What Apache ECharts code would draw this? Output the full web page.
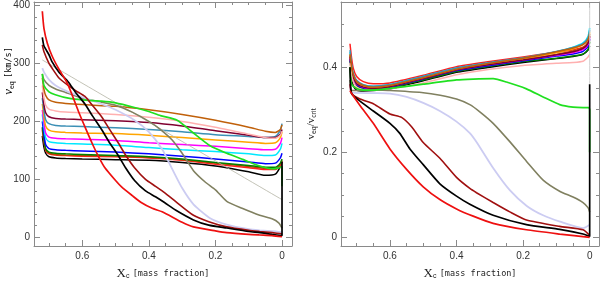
<!DOCTYPE html>
<html><head><meta charset="utf-8">
<script src="https://cdn.jsdelivr.net/npm/echarts@6/dist/echarts.min.js"></script>
<style>html,body{margin:0;padding:0;background:#fff}#c{width:600px;height:285px}</style>
</head><body><div id="c"></div>
<script>
// ---- tick values ----
const xMajor = [0, 0.2, 0.4, 0.6];
const xMinor = [0.05, 0.1, 0.15, 0.25, 0.3, 0.35, 0.45, 0.5, 0.55, 0.65, 0.7];
const yLMajor = [0, 100, 200, 300, 400];
const yLMinor = [20, 40, 60, 80, 120, 140, 160, 180, 220, 240, 260, 280, 320, 340, 360, 380];
const yRMajor = [0, 0.2, 0.4];
const yRMinor = [0.05, 0.1, 0.15, 0.25, 0.3, 0.35, 0.45, 0.5];

// ---- flat family (shared X grid) ----
const xFlat = [0.72, 0.715, 0.71, 0.70, 0.68, 0.65, 0.6, 0.5, 0.4, 0.3, 0.2, 0.1, 0.05, 0.02, 0.005, 0];
// left panel: v_eq [km/s]
const brownL   = [275, 255, 245, 237, 233, 231, 229, 226, 220, 212, 202, 190, 183, 181, 186, 194];
const pinkL    = [262, 240, 228, 221, 218, 216, 215, 212, 207, 200, 190, 178, 172, 171, 176, 183];
const maroonL  = [250, 228, 215, 208, 205, 204, 203, 201, 198, 192, 184, 176, 172, 172, 178, 186];
const steelL   = [240, 218, 203, 196, 193, 192, 191, 189, 186, 182, 177, 174, 172, 174, 185, 196];
const orangeL  = [230, 208, 192, 185, 182, 181, 180, 179, 176, 172, 168, 164, 162, 163, 172, 182];
const magentaL = [220, 198, 180, 173, 171, 170, 169, 167, 163, 160, 157, 153, 151, 152, 162, 172];
const cyanL    = [212, 190, 172, 165, 163, 162, 161, 159, 155, 151, 148, 144, 141, 142, 152, 162];
const blueL    = [200, 178, 160, 153, 151, 150, 149, 147, 144, 140, 135, 130, 127, 128, 137, 145];
const dgreenL  = [190, 170, 153, 147, 145, 144, 143, 141, 139, 135, 129, 124, 121, 121, 128, 135];
const siennaL  = [188, 168, 151, 145, 143, 142, 141, 140, 138, 134, 128, 122, 119, 119, 126, 133];
const redFL    = [185, 165, 150, 144, 142, 141, 140, 139, 137, 133, 126, 120, 117, 117, 124, 130];
const blackFL  = [175, 155, 145, 139, 137, 136, 135, 134, 133, 129, 123, 113, 107, 109, 122, 132];
// right panel: v_eq / v_crit
const brownR   = [0.43, 0.40, 0.382, 0.366, 0.357, 0.353, 0.357, 0.375, 0.395, 0.409, 0.421, 0.436, 0.445, 0.453, 0.464, 0.478];
const pinkR    = [0.41, 0.38, 0.366, 0.353, 0.347, 0.346, 0.349, 0.363, 0.382, 0.395, 0.404, 0.409, 0.411, 0.414, 0.424, 0.43];
const maroonR  = [0.425, 0.395, 0.376, 0.361, 0.353, 0.35, 0.354, 0.373, 0.393, 0.406, 0.417, 0.429, 0.436, 0.444, 0.456, 0.472];
const steelR   = [0.44, 0.405, 0.386, 0.369, 0.359, 0.355, 0.359, 0.378, 0.398, 0.411, 0.422, 0.437, 0.446, 0.455, 0.468, 0.487];
const orangeR  = [0.43, 0.398, 0.379, 0.365, 0.356, 0.352, 0.356, 0.375, 0.395, 0.408, 0.419, 0.434, 0.443, 0.453, 0.467, 0.482];
const magentaR = [0.425, 0.395, 0.376, 0.361, 0.353, 0.351, 0.355, 0.374, 0.394, 0.406, 0.417, 0.428, 0.434, 0.441, 0.453, 0.47];
const cyanR    = [0.435, 0.40, 0.381, 0.367, 0.358, 0.355, 0.359, 0.378, 0.398, 0.41, 0.421, 0.436, 0.447, 0.457, 0.472, 0.492];
const blueR    = [0.42, 0.39, 0.373, 0.359, 0.351, 0.349, 0.353, 0.372, 0.392, 0.404, 0.415, 0.426, 0.431, 0.437, 0.449, 0.466];
const dgreenR  = [0.415, 0.386, 0.369, 0.356, 0.349, 0.347, 0.351, 0.37, 0.39, 0.402, 0.413, 0.421, 0.426, 0.431, 0.441, 0.46];
const siennaR  = [0.42, 0.39, 0.372, 0.358, 0.35, 0.348, 0.352, 0.371, 0.391, 0.404, 0.416, 0.43, 0.438, 0.446, 0.458, 0.474];
const redFR    = [0.455, 0.42, 0.397, 0.378, 0.366, 0.361, 0.363, 0.381, 0.401, 0.413, 0.424, 0.435, 0.441, 0.447, 0.455, 0.465];
const blackFR  = [0.40, 0.37, 0.356, 0.346, 0.344, 0.345, 0.349, 0.368, 0.388, 0.40, 0.411, 0.42, 0.425, 0.43, 0.44, 0.45];

// ---- declining family, left panel ----
const thinLX = [0.72, 0];
const thinLV = [306, 65];
const oliveLX = [0.72, 0.715, 0.70, 0.68, 0.65, 0.60, 0.55, 0.50, 0.45, 0.40, 0.365, 0.33, 0.30, 0.266, 0.23, 0.20, 0.166, 0.12, 0.067, 0.03, 0.01, 0];
const oliveLV = [282, 272, 262, 256, 250, 240, 234, 228, 216, 200, 186, 168, 145, 115, 95, 82, 62, 50, 38, 32, 25, 16];
const lavLX = [0.72, 0.715, 0.70, 0.68, 0.642, 0.60, 0.542, 0.50, 0.443, 0.40, 0.36, 0.33, 0.30, 0.266, 0.216, 0.166, 0.10, 0.067, 0.02, 0];
const lavLV = [292, 285, 272, 262, 251, 242, 230, 220, 202, 182, 152, 118, 85, 57, 33, 22, 14, 12, 10, 9];
const greenLX = [0.72, 0.715, 0.70, 0.681, 0.642, 0.60, 0.542, 0.50, 0.443, 0.40, 0.365, 0.315, 0.266, 0.216, 0.166, 0.116, 0.067, 0.027, 0.008, 0, 0];
const greenLV = [282, 262, 251, 246, 240, 237, 235, 232, 224, 217, 210, 202, 180, 158, 145, 134, 123, 118, 120, 122, 88];
const darkRedLX = [0.72, 0.715, 0.70, 0.691, 0.67, 0.642, 0.62, 0.592, 0.57, 0.542, 0.52, 0.493, 0.47, 0.443, 0.41, 0.38, 0.353, 0.32, 0.266, 0.22, 0.166, 0.10, 0.067, 0.03, 0];
const darkRedLV = [332, 320, 300, 292, 275, 262, 253, 243, 228, 208, 188, 164, 142, 120, 100, 88, 77, 62, 38, 27, 18, 12, 10, 8, 6];
const blackSLX = [0.72, 0.715, 0.70, 0.691, 0.67, 0.642, 0.62, 0.592, 0.57, 0.542, 0.52, 0.493, 0.47, 0.443, 0.41, 0.38, 0.353, 0.32, 0.266, 0.22, 0.166, 0.10, 0.067, 0.03, 0, 0];
const blackSLV = [345, 330, 315, 303, 285, 268, 250, 230, 210, 186, 165, 142, 120, 98, 80, 70, 60, 47, 30, 21, 16, 10, 8, 5, 3, 130];
const redSLX = [0.72, 0.715, 0.705, 0.69, 0.67, 0.647, 0.63, 0.612, 0.59, 0.567, 0.55, 0.532, 0.50, 0.482, 0.45, 0.423, 0.39, 0.36, 0.30, 0.266, 0.20, 0.166, 0.10, 0.067, 0.03, 0];
const redSLV = [390, 360, 335, 312, 290, 268, 245, 218, 188, 158, 138, 120, 98, 87, 72, 60, 50, 44, 26, 18, 11, 8, 5, 4, 3, 1];

// ---- declining family, right panel ----
const grayRX = [0, 0];
const grayRV = [0.36, 0.55];
const oliveRX = [0.72, 0.715, 0.68, 0.65, 0.60, 0.50, 0.449, 0.40, 0.36, 0.33, 0.29, 0.24, 0.189, 0.139, 0.089, 0.05, 0.02, 0.005, 0];
const oliveRV = [0.37, 0.345, 0.345, 0.347, 0.345, 0.34, 0.334, 0.325, 0.312, 0.295, 0.268, 0.225, 0.178, 0.134, 0.108, 0.095, 0.082, 0.07, 0.06];
const lavRX = [0.72, 0.715, 0.65, 0.60, 0.55, 0.50, 0.45, 0.40, 0.36, 0.339, 0.29, 0.24, 0.189, 0.14, 0.089, 0.02, 0];
const lavRV = [0.36, 0.34, 0.339, 0.338, 0.33, 0.316, 0.297, 0.272, 0.245, 0.223, 0.163, 0.111, 0.074, 0.052, 0.037, 0.022, 0.03];
const greenRX = [0.72, 0.715, 0.70, 0.68, 0.65, 0.60, 0.50, 0.40, 0.35, 0.29, 0.25, 0.19, 0.14, 0.09, 0.05, 0.02, 0.003, 0, 0];
const greenRV = [0.40, 0.36, 0.35, 0.346, 0.346, 0.35, 0.36, 0.37, 0.372, 0.373, 0.365, 0.349, 0.33, 0.312, 0.306, 0.305, 0.305, 0.30, 0.20];
const darkRedRX = [0.72, 0.715, 0.69, 0.65, 0.60, 0.565, 0.535, 0.50, 0.45, 0.40, 0.36, 0.34, 0.29, 0.24, 0.19, 0.09, 0.02, 0];
const darkRedRV = [0.36, 0.338, 0.325, 0.314, 0.29, 0.282, 0.26, 0.223, 0.186, 0.141, 0.115, 0.105, 0.082, 0.06, 0.041, 0.026, 0.018, 0.005];
const blackSRX = [0.72, 0.715, 0.69, 0.65, 0.60, 0.571, 0.54, 0.50, 0.45, 0.40, 0.36, 0.29, 0.19, 0.09, 0.02, 0, 0];
const blackSRV = [0.40, 0.338, 0.32, 0.297, 0.268, 0.245, 0.208, 0.171, 0.126, 0.097, 0.078, 0.052, 0.03, 0.019, 0.008, 0.002, 0.36];
const redSRX = [0.72, 0.715, 0.69, 0.65, 0.60, 0.55, 0.50, 0.45, 0.40, 0.35, 0.29, 0.19, 0.09, 0];
const redSRV = [0.345, 0.338, 0.31, 0.268, 0.208, 0.16, 0.119, 0.089, 0.067, 0.05, 0.033, 0.018, 0.008, 0];

// ---- styles ----
const C = {
  brown: '#c0600a', pink: '#ffb0b0', maroon: '#800030', steel: '#3b8fb5', orange: '#ffa500',
  magenta: '#ff00ff', cyan: '#00e8ff', blue: '#0000ff', dgreen: '#008000', sienna: '#c04000',
  redF: '#ff2020', black: '#000000', thin: '#b4b4a4', olive: '#808060', lav: '#ccccf2',
  green: '#20e020', darkRed: '#a01010', red: '#ee1010', gray: '#d0d0d0'
};

const flatSets = [
  ['blackF', blackFL, blackFR, C.black],
  ['redF', redFL, redFR, C.redF],
  ['sienna', siennaL, siennaR, C.sienna],
  ['dgreen', dgreenL, dgreenR, C.dgreen],
  ['blue', blueL, blueR, C.blue],
  ['cyan', cyanL, cyanR, C.cyan],
  ['magenta', magentaL, magentaR, C.magenta],
  ['orange', orangeL, orangeR, C.orange],
  ['steel', steelL, steelR, C.steel],
  ['maroon', maroonL, maroonR, C.maroon],
  ['pink', pinkL, pinkR, C.pink],
  ['brown', brownL, brownR, C.brown]
];

function pairs(xs, ys) { return xs.map((x, i) => [x, ys[i]]); }

const series = [];
function addLine(panel, xs, ys, color, width) {
  series.push({
    type: 'line', xAxisIndex: panel * 4, yAxisIndex: panel * 4,
    data: pairs(xs, ys), symbol: 'none', smooth: 0.2,
    lineStyle: { color: color, width: width || 1.5 }, animation: false, silent: true
  });
}
flatSets.forEach(s => { addLine(0, xFlat, s[1], s[3]); addLine(1, xFlat, s[2], s[3]); });
addLine(0, thinLX, thinLV, C.thin, 0.8);
addLine(1, grayRX, grayRV, C.gray, 1);
addLine(0, oliveLX, oliveLV, C.olive, 1.6); addLine(1, oliveRX, oliveRV, C.olive, 1.6);
addLine(0, lavLX, lavLV, C.lav, 1.8); addLine(1, lavRX, lavRV, C.lav, 1.8);
addLine(0, greenLX, greenLV, C.green, 1.7); addLine(1, greenRX, greenRV, C.green, 1.7);
addLine(0, darkRedLX, darkRedLV, C.darkRed, 1.6); addLine(1, darkRedRX, darkRedRV, C.darkRed, 1.6);
addLine(0, blackSLX, blackSLV, C.black, 1.7); addLine(1, blackSRX, blackSRV, C.black, 1.7);
addLine(0, redSLX, redSLV, C.red, 1.7); addLine(1, redSRX, redSRV, C.red, 1.7);

const frame = '#8a8a8a';
const labelFont = { color: '#333', fontSize: 10, fontFamily: 'Liberation Sans' };
const nameRich = {
  X: { fontFamily: 'Liberation Serif', fontSize: 13, color: '#222' },
  s: { fontFamily: 'Liberation Sans', fontSize: 7, color: '#222', verticalAlign: 'bottom', padding: [6, 0, 0, 0] },
  t: { fontFamily: 'DejaVu Sans Mono', fontSize: 8.5, color: '#222' },
  v: { fontFamily: 'Liberation Serif', fontStyle: 'italic', fontSize: 13, color: '#222' },
  V: { fontFamily: 'Liberation Serif', fontSize: 11, color: '#222' }
};

function xAxes(g, min, max) {
  const base = { type: 'value', gridIndex: g, min: min, max: max, inverse: true, splitLine: { show: false } };
  return [
    Object.assign({}, base, {
      position: 'bottom',
      axisLine: { show: true, onZero: false, lineStyle: { color: frame, width: 1 } },
      axisTick: { show: true, inside: true, length: 6, customValues: xMajor, lineStyle: { color: frame } },
      axisLabel: Object.assign({ show: true, customValues: xMajor, margin: 5 }, labelFont),
      name: '{X|X}{s|c} {t|[mass fraction]}', nameLocation: 'middle', nameGap: 21,
      nameTextStyle: { rich: nameRich }
    }),
    Object.assign({}, base, {
      position: 'bottom', axisLine: { show: false, onZero: false },
      axisTick: { show: true, inside: true, length: 3, customValues: xMinor, lineStyle: { color: frame } },
      axisLabel: { show: false }
    }),
    Object.assign({}, base, {
      position: 'top',
      axisLine: { show: true, onZero: false, lineStyle: { color: frame, width: 1 } },
      axisTick: { show: true, inside: true, length: 6, customValues: xMajor, lineStyle: { color: frame } },
      axisLabel: { show: false }
    }),
    Object.assign({}, base, {
      position: 'top', axisLine: { show: false, onZero: false },
      axisTick: { show: true, inside: true, length: 3, customValues: xMinor, lineStyle: { color: frame } },
      axisLabel: { show: false }
    })
  ];
}
function yAxes(g, min, max, major, minor, extra) {
  const base = { type: 'value', gridIndex: g, min: min, max: max, splitLine: { show: false } };
  return [
    Object.assign({}, base, {
      position: 'left',
      axisLine: { show: true, onZero: false, lineStyle: { color: frame, width: 1 } },
      axisTick: { show: true, inside: true, length: 6, customValues: major, lineStyle: { color: frame } },
      axisLabel: Object.assign({ show: true, customValues: major, margin: 4 }, labelFont)
    }, extra || {}),
    Object.assign({}, base, {
      position: 'left', axisLine: { show: false, onZero: false },
      axisTick: { show: true, inside: true, length: 3, customValues: minor, lineStyle: { color: frame } },
      axisLabel: { show: false }
    }),
    Object.assign({}, base, {
      position: 'right',
      axisLine: { show: true, onZero: false, lineStyle: { color: frame, width: 1 } },
      axisTick: { show: true, inside: true, length: 6, customValues: major, lineStyle: { color: frame } },
      axisLabel: { show: false }
    }),
    Object.assign({}, base, {
      position: 'right', axisLine: { show: false, onZero: false },
      axisTick: { show: true, inside: true, length: 3, customValues: minor, lineStyle: { color: frame } },
      axisLabel: { show: false }
    })
  ];
}

const chart = echarts.init(document.getElementById('c'), null, { renderer: 'canvas' });
chart.setOption({
  animation: false,
  backgroundColor: '#fff',
  grid: [
    { left: 34, top: 2, width: 258, height: 257 },
    { left: 341, top: 2, width: 258, height: 257 }
  ],
  xAxis: xAxes(0, -0.030, 0.745).concat(xAxes(1, -0.028, 0.747)),
  yAxis: yAxes(0, -15, 406, yLMajor, yLMinor).concat(
    yAxes(1, -0.0201, 0.553, yRMajor, yRMinor, {
      name: '{V|v}{s|eq}{V|/v}{s|crit}', nameLocation: 'middle', nameRotate: 90, nameGap: 23,
      nameTextStyle: { rich: nameRich }
    })),
  graphic: [{
    type: 'text', x: 9, y: 71, rotation: Math.PI / 2,
    style: {
      text: '{v|v}{s|eq} {t|[km/s]}', rich: nameRich, align: 'center', verticalAlign: 'middle'
    }
  }],
  series: series
});
</script></body></html>
